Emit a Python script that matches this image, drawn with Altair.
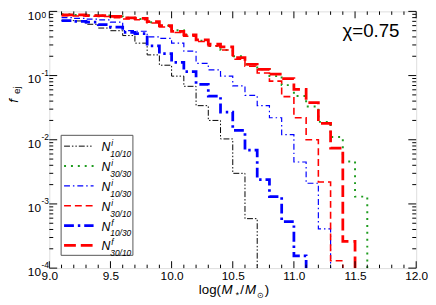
import altair as alt
import pandas as pd

FONT = "Liberation Sans"

# ---------------- data (bin left edges start at 9.1, width 0.1) ----------------
bin_start = 9.1
bin_width = 0.1

n_i_10_10 = [0.72, 0.71, 0.63, 0.55, 0.50, 0.42, 0.32, 0.21, 0.145, 0.098, 0.068,
             0.034, 0.020, 0.0103, 0.0030, 0.00059]
n_i_30_30 = [0.90, 0.88, 0.87, 0.86, 0.83, 0.80, 0.76, 0.68, 0.60, 0.51, 0.43, 0.35,
             0.29, 0.25, 0.20, 0.15, 0.125, 0.098, 0.071, 0.048, 0.033, 0.019, 0.011,
             0.0046, 0.0013]
n_i_10_30 = [0.80, 0.78, 0.76, 0.74, 0.68, 0.50, 0.49, 0.40, 0.38, 0.32, 0.24, 0.155,
             0.123, 0.098, 0.069, 0.049, 0.034, 0.022, 0.012, 0.0045, 0.0021, 0.00041]
n_i_30_10 = [0.86, 0.85, 0.84, 0.83, 0.80, 0.76, 0.74, 0.66, 0.57, 0.47, 0.41, 0.34,
             0.29, 0.25, 0.18, 0.14, 0.11, 0.082, 0.047, 0.022, 0.010, 0.0022, 0.00013]
n_f_10_30 = [0.72, 0.70, 0.68, 0.62, 0.57, 0.47, 0.45, 0.29, 0.22, 0.16, 0.115, 0.073,
             0.048, 0.027, 0.014, 0.0069, 0.0024, 0.0013, 0.00053, 0.000155]
n_f_30_10 = [0.88, 0.88, 0.86, 0.86, 0.84, 0.79, 0.78, 0.69, 0.60, 0.49, 0.43, 0.36,
             0.31, 0.28, 0.19, 0.15, 0.125, 0.105, 0.09, 0.061, 0.038, 0.018, 0.0074,
             0.00026]

series_values = [n_i_10_10, n_i_30_30, n_i_10_30, n_i_30_10, n_f_10_30, n_f_30_10]
sup_labels = ["i", "i", "i", "i", "f", "f"]
sub_labels = ["10/10", "30/30", "10/30", "30/10", "10/30", "30/10"]
colors = ["#000000", "#1e9c1e", "#0000ff", "#ff0000", "#0000ff", "#ff0000"]
dashes = [[6, 2, 1.5, 2, 1.5, 2], [2, 5], [6, 3, 1.5, 3], [7, 4], [10, 4, 2.5, 4], [12, 5]]
widths = [1.0, 2.0, 1.2, 1.6, 2.8, 2.8]

x_label_values = [9.0, 9.5, 10.0, 10.5, 11.0, 11.5, 12.0]
y_decades = [1, 0.1, 0.01, 0.001, 0.0001]
y_exponents = ["0", "-1", "-2", "-3", "-4"]
chi_text = "χ=0.75"

W, H = 373, 261

xenc = alt.X("x:Q",
             scale=alt.Scale(domain=[9, 12], nice=False, zero=False),
             axis=alt.Axis(values=x_label_values, format=".1f", ticks=False, domain=False,
                           grid=False, labelFontSize=12, labelFont=FONT, labelColor="black",
                           labelPadding=3, labelFlush=False, title=None))
yenc = alt.Y("y:Q", scale=alt.Scale(type="log", domain=[1e-4, 1], nice=False), axis=None)

layers = []

# ---------------- histogram step lines ----------------
for vals, col, dash, wd in zip(series_values, colors, dashes, widths):
    xs = [round(bin_start + bin_width * i, 2) for i in range(len(vals))]
    xs.append(round(bin_start + bin_width * len(vals), 2))
    ys = list(vals) + [1e-7]
    df = pd.DataFrame({"x": xs, "y": ys})
    layers.append(
        alt.Chart(df).mark_line(interpolate="step-after", clip=True, color=col,
                                strokeDash=dash, strokeWidth=wd)
        .encode(x=xenc, y=yenc)
    )

# ---------------- inward ticks ----------------
xt = [round(9.0 + 0.1 * i, 1) for i in range(31)]
x_major = pd.DataFrame({"x": [v for v in xt if abs(v * 2 - round(v * 2)) < 1e-6]})
x_minor = pd.DataFrame({"x": [v for v in xt if abs(v * 2 - round(v * 2)) >= 1e-6]})
for d, ln in [(x_major, 7), (x_minor, 3.5)]:
    layers.append(alt.Chart(d).mark_rule(color="black", strokeWidth=1)
                  .encode(x=xenc, y=alt.value(H), y2=alt.value(H - ln)))
    layers.append(alt.Chart(d).mark_rule(color="black", strokeWidth=1)
                  .encode(x=xenc, y=alt.value(0), y2=alt.value(ln)))

y_major = pd.DataFrame({"y": y_decades})
y_minor = pd.DataFrame({"y": [m * d for d in y_decades[1:] for m in range(2, 10)]})
for d, ln in [(y_major, 8), (y_minor, 4)]:
    layers.append(alt.Chart(d).mark_rule(color="black", strokeWidth=1)
                  .encode(y=yenc, x=alt.value(0), x2=alt.value(ln)))
    layers.append(alt.Chart(d).mark_rule(color="black", strokeWidth=1)
                  .encode(y=yenc, x=alt.value(W), x2=alt.value(W - ln)))

# ---------------- y tick labels 10^n ----------------
ylab = pd.DataFrame({"y": y_decades[1:], "base": ["10"] * (len(y_decades) - 1),
                     "exp": y_exponents[1:]})
layers.append(alt.Chart(ylab).mark_text(align="right", baseline="middle", dy=4, fontSize=12,
                                        font=FONT, color="black")
              .encode(y=yenc, x=alt.value(-8.5), text="base:N"))
layers.append(alt.Chart(ylab).mark_text(align="left", baseline="middle", dy=-3, fontSize=8.5,
                                        font=FONT, color="black")
              .encode(y=yenc, x=alt.value(-8), text="exp:N"))

one = pd.DataFrame({"a": [0]})


def txt(s, x, y, size, italic=False, align="left", baseline="alphabetic", angle=0):
    kw = dict(align=align, baseline=baseline, fontSize=size, font=FONT, color="black")
    if italic:
        kw["fontStyle"] = "italic"
    if angle:
        kw["angle"] = angle
    return alt.Chart(one).mark_text(**kw).encode(x=alt.value(x), y=alt.value(y),
                                                 text=alt.value(s))


# top label (10^0) is nudged down to stay inside the picture, as in the original
layers += [
    txt("10", -8.5, 5, 12, align="right", baseline="middle"),
    txt(y_exponents[0], -8, 3.5, 8.5, baseline="middle"),
]

# ---------------- axis titles ----------------
layers += [
    txt("log(", 152, 287, 13.5),
    txt("M", 175, 287, 13.5, italic=True),
    txt("*", 189, 291, 9, italic=True),
    txt("/", 194, 287, 13.5),
    txt("M", 199, 287, 13.5, italic=True),
    txt("⊙", 211.5, 291, 8),
    txt(")", 219, 287, 13.5),
    txt("f", -36, 91, 13.5, italic=True, align="center", baseline="middle", angle=270),
    txt("ej", -32.5, 80, 10, align="center", baseline="middle", angle=270),
    txt(chi_text, 298, 20, 19, baseline="middle"),
]

# ---------------- legend ----------------
layers.append(alt.Chart(one).mark_rect(fill="white", stroke="#555555", strokeWidth=1)
              .encode(x=alt.value(12), x2=alt.value(85), y=alt.value(126), y2=alt.value(248)))
for k in range(6):
    ry = 137 + 20.2 * k
    layers.append(alt.Chart(one).mark_rule(color=colors[k], strokeDash=dashes[k],
                                           strokeWidth=widths[k])
                  .encode(x=alt.value(15), x2=alt.value(45), y=alt.value(ry)))
    layers.append(txt("N", 53, ry + 1, 12.5, italic=True, baseline="middle"))
    layers.append(txt(sup_labels[k], 63, ry - 3, 8.5, italic=True, baseline="middle"))
    layers.append(txt(sub_labels[k], 62, ry + 8, 8.5, italic=True, baseline="middle"))

chart = (alt.layer(*layers)
         .properties(width=W, height=H, autosize=alt.AutoSizeParams(type="none"),
                     padding={"left": 42, "top": 1, "right": 12, "bottom": 32})
         .configure_view(stroke="black", strokeWidth=1)
         .configure(background="white"))

chart.save("out.html", embed_options={"renderer": "svg", "actions": False})
